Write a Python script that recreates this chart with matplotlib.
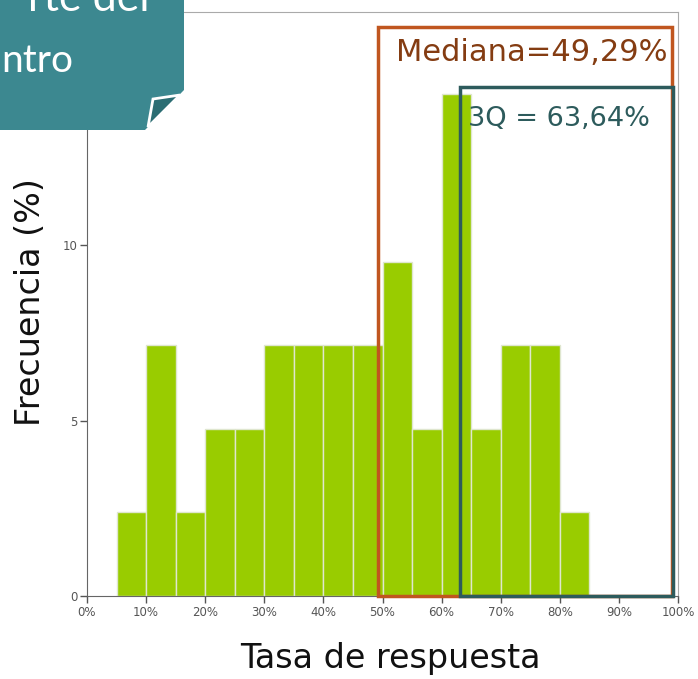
import numpy as np
import matplotlib.pyplot as plt
from matplotlib.patches import Rectangle, Polygon

# histogram data (bins of 5%, n = 42)
binStart = [5, 10, 15, 20, 25, 30, 35, 40, 45, 50, 55, 60, 65, 70, 75, 80]
freqPct = [2.38, 7.14, 2.38, 4.76, 4.76, 7.14, 7.14, 7.14, 7.14,
           9.52, 4.76, 14.29, 4.76, 7.14, 7.14, 2.38]
xTicks = [0, 10, 20, 30, 40, 50, 60, 70, 80, 90, 100]
yTicks = [0, 5, 10]
median = 49.29
q3 = 63.64

plt.rcParams['font.family'] = ['DejaVu Sans']

fig = plt.figure(figsize=(6.98, 6.79), dpi=100)
ax = fig.add_axes([87/698, 1-596/679, (678-87)/698, (596-12)/679])

ax.bar(binStart, freqPct, width=5, align='edge', color='#99cc00',
       edgecolor='#dfe6cf', linewidth=1, zorder=2)
ax.set_xlim(0, 100)
ax.set_ylim(0, 16.64)
ax.set_xticks(xTicks)
ax.set_xticklabels([f'{t}%' for t in xTicks])
ax.set_yticks(yTicks)
ax.tick_params(labelsize=8.5, colors='#555555', length=5, width=1, pad=2)
for s in ['left', 'bottom']:
  ax.spines[s].set_color('#666666')
for s in ['top', 'right']:
  ax.spines[s].set_color('#aaaaaa')

ax.set_xlabel('Tasa de respuesta', fontsize=24, color='#111111')
ax.set_ylabel('Frecuencia (%)', fontsize=24, color='#111111')
ax.xaxis.set_label_coords(0.514, -0.078)
ax.yaxis.set_label_coords(-0.068, 0.503)

# median box
ax.add_patch(Rectangle((median, 0), 99.0-median, 16.2, fill=False,
                       edgecolor='#c0561f', linewidth=2.5, zorder=5, clip_on=False))
ax.text(98.3, 15.5, 'Mediana=49,29%', ha='right', va='center', fontsize=22,
        color='#843c12', zorder=6)
# third quartile box
ax.add_patch(Rectangle((q3-0.6, 0), 99.2-q3+0.6, 14.5, fill=False,
                       edgecolor='#2d5b5c', linewidth=2.5, zorder=5, clip_on=False))
ax.text(64.5, 13.6, '3Q = 63,64%', ha='left', va='center', fontsize=19.5,
        color='#2d5b5c', zorder=6)

# callout in the corner
W, H = 698, 679
def fx(px): return px / W
def fy(py): return 1 - py / H
callout = Polygon([(fx(0), fy(0)), (fx(184), fy(0)), (fx(184), fy(90)),
                   (fx(145), fy(130)), (fx(0), fy(130))],
                  closed=True, transform=fig.transFigure,
                  facecolor='#3c8890', edgecolor='none', zorder=10)
fig.patches.append(callout)
curl = Polygon([(fx(153), fy(99)), (fx(180), fy(95)), (fx(148), fy(127))],
               closed=True, transform=fig.transFigure, facecolor='#2b6d73',
               edgecolor='white', linewidth=2, zorder=11)
fig.patches.append(curl)
fig.text(fx(150), fy(11), 'rte del', ha='right', va='baseline', fontsize=31,
         color='white', family='Lato', zorder=12)
fig.text(fx(1), fy(72), 'ntro', ha='left', va='baseline', fontsize=28,
         color='white', family='Lato', zorder=12)

fig.savefig('out.png', dpi=100)
